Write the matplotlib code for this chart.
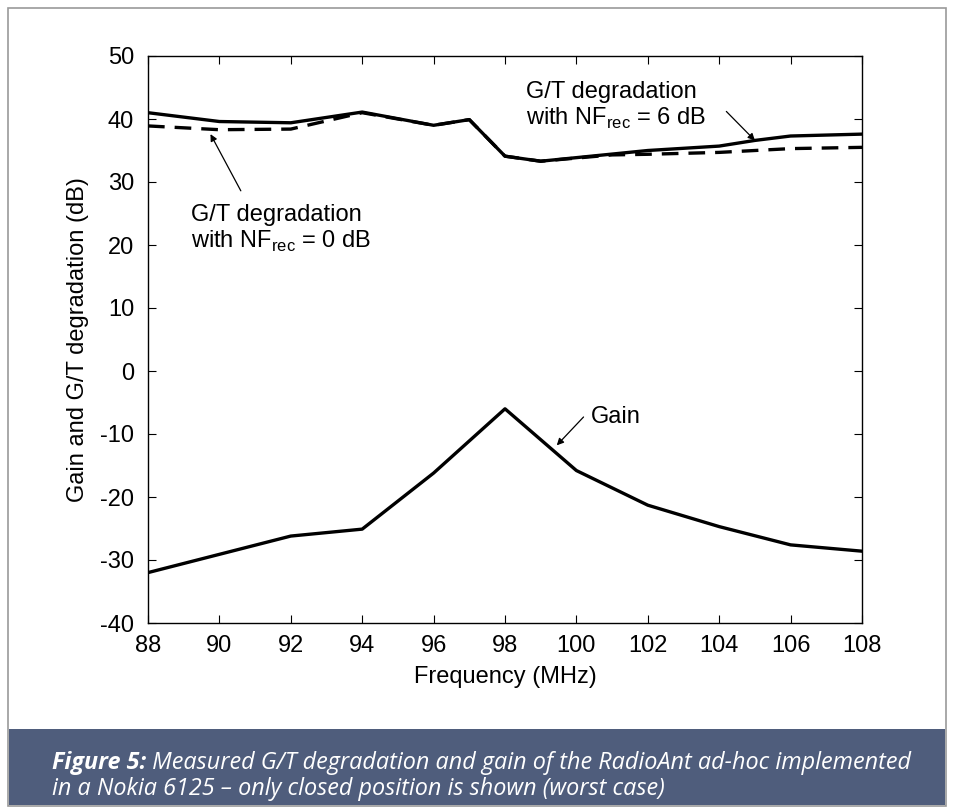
import matplotlib.pyplot as plt
from matplotlib.patches import Rectangle

# ---------------- data ----------------
freq_6db = [88, 90, 92, 94, 96, 97, 98, 99, 102, 104, 105, 106, 108]
gt_6db = [41.0, 39.6, 39.4, 41.1, 39.0, 39.9, 34.1, 33.3, 35.0, 35.7, 36.6, 37.3, 37.6]

freq_0db = [88, 90, 92, 94, 96, 97, 98, 99, 101, 102, 104, 106, 108]
gt_0db = [38.9, 38.3, 38.4, 41.0, 39.0, 39.9, 34.1, 33.3, 34.3, 34.4, 34.7, 35.3, 35.5]

freq_gain = [88, 92, 94, 96, 98, 100, 102, 104, 106, 108]
gain = [-32.0, -26.2, -25.1, -16.2, -6.0, -15.8, -21.3, -24.7, -27.6, -28.6]

xticks = list(range(88, 109, 2))
yticks = list(range(-40, 51, 10))

caption_bold = "Figure 5:"
caption_line1 = " Measured G/T degradation and gain of the RadioAnt ad-hoc implemented"
caption_line2 = "in a Nokia 6125 \u2013 only closed position is shown (worst case)"

plt.rcParams['font.family'] = ['Liberation Sans', 'DejaVu Sans']
plt.rcParams['axes.unicode_minus'] = False

fig = plt.figure(figsize=(9.54, 8.1), dpi=100)

# frame and caption band (behind the axes)
fig.patches.append(Rectangle((8/954, 4/810), 938/954, 798/810, transform=fig.transFigure,
                             facecolor='white', edgecolor='#9a9a9a', lw=1.2, zorder=-2))
fig.patches.append(Rectangle((9/954, 5/810), 936/954, 76/810, transform=fig.transFigure,
                             facecolor='#4f5d7c', edgecolor='none', zorder=-1))

ax = fig.add_axes([148/954, 1 - 623/810, 714/954, 567/810])
ax.patch.set_alpha(0)
ax.plot(freq_6db, gt_6db, color='black', lw=2.4)
ax.plot(freq_0db, gt_0db, color='black', lw=2.4, ls=(0, (5, 3)))
ax.plot(freq_gain, gain, color='black', lw=2.4)

ax.set_xlim(88, 108)
ax.set_ylim(-40, 50)
ax.set_xticks(xticks)
ax.set_yticks(yticks)
ax.tick_params(direction='in', top=True, right=True, length=6, width=0.8, labelsize=17)
ax.tick_params(axis='x', pad=9)
ax.tick_params(axis='y', pad=10)
for s in ax.spines.values():
    s.set_linewidth(1.0)
ax.set_xlabel("Frequency (MHz)", fontsize=17, labelpad=6)
ax.set_ylabel("Gain and G/T degradation (dB)", fontsize=17, labelpad=8)

# annotations
head = dict(arrowstyle='-|>', color='black', lw=0.9, mutation_scale=10, shrinkA=0, shrinkB=0)
ax.text(98.6, 42.0, "G/T degradation\nwith NF$_{\\mathregular{rec}}$ = 6 dB",
        fontsize=17, ha='left', va='center', linespacing=1.15)
ax.annotate("", xy=(105.0, 36.6), xytext=(104.2, 41.2), arrowprops=head)
ax.text(89.2, 22.6, "G/T degradation\nwith NF$_{\\mathregular{rec}}$ = 0 dB",
        fontsize=17, ha='left', va='center', linespacing=1.15)
ax.annotate("", xy=(89.75, 37.6), xytext=(90.6, 28.6), arrowprops=head)
ax.text(100.4, -7.3, "Gain", fontsize=17, ha='left', va='center')
ax.annotate("", xy=(99.45, -11.8), xytext=(100.2, -7.3), arrowprops=head)

# caption
t = fig.text(52/954, 1 - 763/810, caption_bold, color='white', fontsize=16.8, style='italic',
             weight='bold', family='Open Sans', va='center')
fig.canvas.draw()
bb = t.get_window_extent()
fig.text(bb.x1 / 954, 1 - 763/810, caption_line1, color='white', fontsize=16.8, style='italic',
         family='Open Sans', va='center')
fig.text(52/954, 1 - 789/810, caption_line2, color='white', fontsize=16.8, style='italic',
         family='Open Sans', va='center')

fig.savefig("out.png", dpi=100)
